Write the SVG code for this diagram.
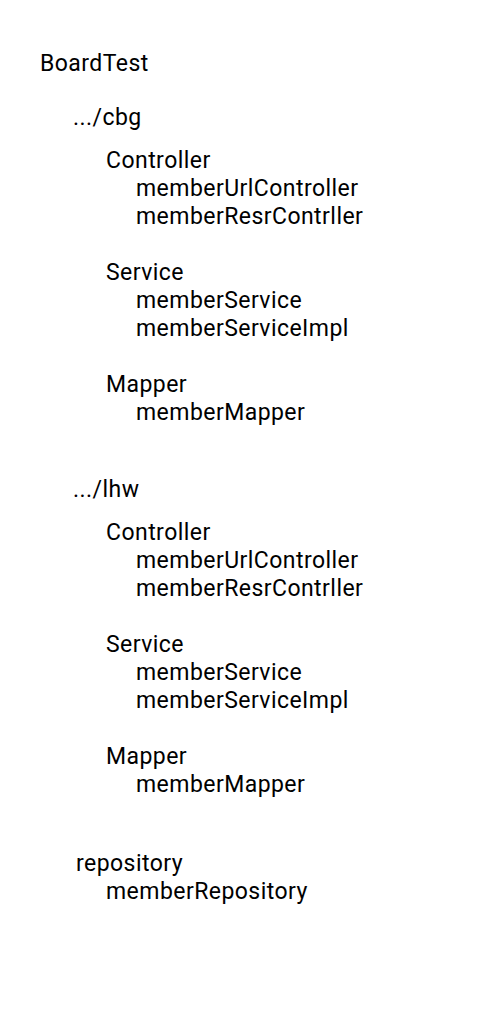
<svg xmlns="http://www.w3.org/2000/svg" width="494" height="1024" viewBox="0 0 494 1024">
<style>
text{font-family:Roboto,"Liberation Sans",sans-serif;font-size:23px;letter-spacing:0.45px;fill:#000}
</style>
<rect width="494" height="1024" fill="#fff"/>
<g id="root"><text x="40" y="71">BoardTest</text></g>
<g id="cbg">
<text x="73" y="125">.../cbg</text>
<text x="106" y="168">Controller</text>
<text x="136" y="196">memberUrlController</text>
<text x="136" y="224">memberResrContrller</text>
<text x="106" y="280">Service</text>
<text x="136" y="308">memberService</text>
<text x="136" y="336">memberServiceImpl</text>
<text x="106" y="392">Mapper</text>
<text x="136" y="420">memberMapper</text>
</g>
<g id="lhw">
<text x="73" y="497">.../lhw</text>
<text x="106" y="540">Controller</text>
<text x="136" y="568">memberUrlController</text>
<text x="136" y="596">memberResrContrller</text>
<text x="106" y="652">Service</text>
<text x="136" y="680">memberService</text>
<text x="136" y="708">memberServiceImpl</text>
<text x="106" y="764">Mapper</text>
<text x="136" y="792">memberMapper</text>
</g>
<g id="repository">
<text x="76" y="871">repository</text>
<text x="106" y="899">memberRepository</text>
</g>
<g id="connectors"></g>
</svg>
